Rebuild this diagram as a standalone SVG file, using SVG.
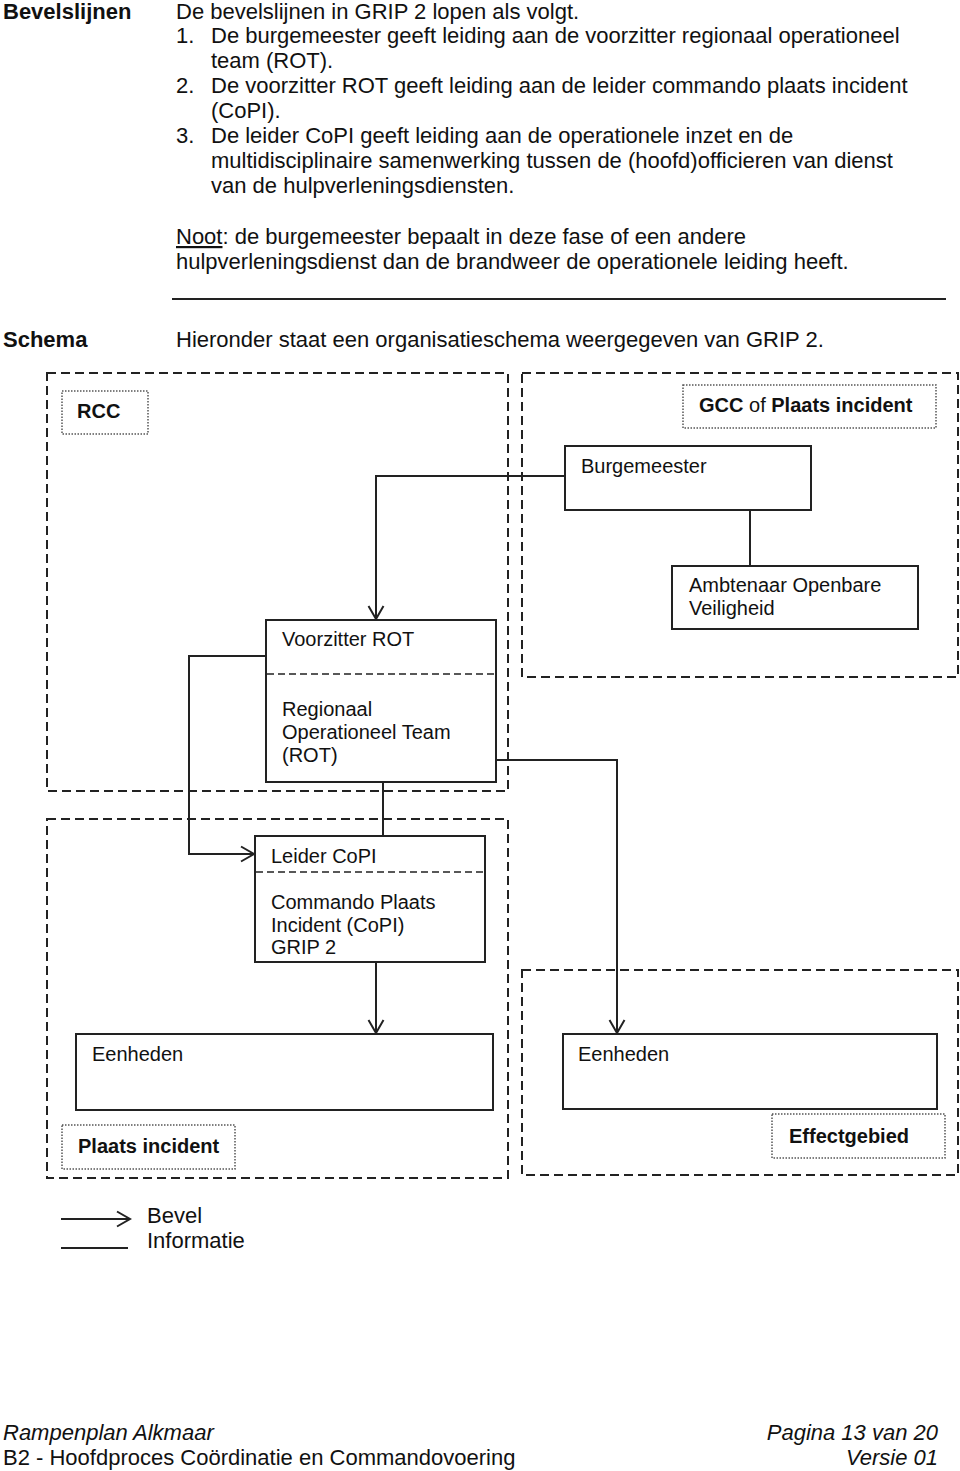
<svg xmlns="http://www.w3.org/2000/svg" width="960" height="1471" viewBox="0 0 960 1471">
<style>
text{font-family:"Liberation Sans",Arial,sans-serif;fill:#111}
.t{font-size:22px}
.d{font-size:20px}
.b{font-weight:bold}
.i{font-style:italic}
.e{text-anchor:end}
.region{fill:none;stroke:#222;stroke-width:2;stroke-dasharray:9 5}
.label{fill:#fff;stroke:#555;stroke-width:1.5;stroke-dasharray:1.5 1.5}
.box{fill:#fff;stroke:#222;stroke-width:2}
.div{stroke:#222;stroke-width:1.5;stroke-dasharray:7 4}
.con{fill:none;stroke:#222;stroke-width:2}
</style>
<defs>
<marker id="arr" markerUnits="userSpaceOnUse" markerWidth="18" markerHeight="20" viewBox="-15 -10 18 20" refX="0" refY="0" orient="auto">
<path d="M-13,-7.5 L0,0 L-13,7.5" fill="none" stroke="#222" stroke-width="2"/>
</marker>
</defs>
<rect width="960" height="1471" fill="#fff"/>

<g id="header-text">
<text class="t b" x="3" y="19">Bevelslijnen</text>
<text class="t" x="176" y="19">De bevelslijnen in GRIP 2 lopen als volgt.</text>
<text class="t" x="176" y="43">1.</text>
<text class="t" x="211" y="43">De burgemeester geeft leiding aan de voorzitter regionaal operationeel</text>
<text class="t" x="211" y="68">team (ROT).</text>
<text class="t" x="176" y="93">2.</text>
<text class="t" x="211" y="93">De voorzitter ROT geeft leiding aan de leider commando plaats incident</text>
<text class="t" x="211" y="118">(CoPI).</text>
<text class="t" x="176" y="143">3.</text>
<text class="t" x="211" y="143">De leider CoPI geeft leiding aan de operationele inzet en de</text>
<text class="t" x="211" y="168">multidisciplinaire samenwerking tussen de (hoofd)officieren van dienst</text>
<text class="t" x="211" y="193">van de hulpverleningsdiensten.</text>
<text class="t" x="176" y="244"><tspan text-decoration="underline">Noot</tspan>: de burgemeester bepaalt in deze fase of een andere</text>
<text class="t" x="176" y="269">hulpverleningsdienst dan de brandweer de operationele leiding heeft.</text>
<line x1="172" y1="299" x2="946" y2="299" stroke="#222" stroke-width="2"/>
<text class="t b" x="3" y="347">Schema</text>
<text class="t" x="176" y="347">Hieronder staat een organisatieschema weergegeven van GRIP 2.</text>
</g>

<g id="regions">
<rect class="region" x="47" y="373" width="461" height="418"/>
<rect class="region" x="522" y="373" width="436" height="304"/>
<rect class="region" x="47" y="819" width="461" height="359"/>
<rect class="region" x="522" y="970" width="436" height="205"/>
</g>

<g id="connectors">
<path class="con" d="M565,476 H376 V619" marker-end="url(#arr)"/>
<path class="con" d="M750,510 V566"/>
<path class="con" d="M266,656 H189 V854 H254" marker-end="url(#arr)"/>
<path class="con" d="M383,782 V836"/>
<path class="con" d="M376,962 V1033" marker-end="url(#arr)"/>
<path class="con" d="M496,760 H617 V1033" marker-end="url(#arr)"/>
</g>

<g id="rcc-label">
<rect class="label" x="62" y="391" width="86" height="43"/>
<text class="d b" x="77" y="418">RCC</text>
</g>

<g id="gcc-label">
<rect class="label" x="683" y="385" width="253" height="43"/>
<text class="d" x="699" y="412"><tspan class="b">GCC</tspan> of <tspan class="b">Plaats incident</tspan></text>
</g>

<g id="burgemeester">
<rect class="box" x="565" y="446" width="246" height="64"/>
<text class="d" x="581" y="473">Burgemeester</text>
</g>

<g id="ambtenaar">
<rect class="box" x="672" y="566" width="246" height="63"/>
<text class="d" x="689" y="592">Ambtenaar Openbare</text>
<text class="d" x="689" y="615">Veiligheid</text>
</g>

<g id="rot">
<rect class="box" x="266" y="620" width="230" height="162"/>
<line class="div" x1="267" y1="674" x2="495" y2="674"/>
<text class="d" x="282" y="646">Voorzitter ROT</text>
<text class="d" x="282" y="716">Regionaal</text>
<text class="d" x="282" y="739">Operationeel Team</text>
<text class="d" x="282" y="762">(ROT)</text>
</g>

<g id="copi">
<rect class="box" x="255" y="836" width="230" height="126"/>
<line class="div" x1="256" y1="872" x2="484" y2="872"/>
<text class="d" x="271" y="863">Leider CoPI</text>
<text class="d" x="271" y="909">Commando Plaats</text>
<text class="d" x="271" y="932">Incident (CoPI)</text>
<text class="d" x="271" y="954">GRIP 2</text>
</g>

<g id="eenheden-left">
<rect class="box" x="76" y="1034" width="417" height="76"/>
<text class="d" x="92" y="1061">Eenheden</text>
</g>

<g id="eenheden-right">
<rect class="box" x="563" y="1034" width="374" height="75"/>
<text class="d" x="578" y="1061">Eenheden</text>
</g>

<g id="plaats-incident-label">
<rect class="label" x="62" y="1125" width="173" height="44"/>
<text class="d b" x="78" y="1153">Plaats incident</text>
</g>

<g id="effectgebied-label">
<rect class="label" x="772" y="1114" width="173" height="44"/>
<text class="d b" x="789" y="1143">Effectgebied</text>
</g>

<g id="legend">
<path class="con" d="M61,1219 H130" marker-end="url(#arr)"/>
<path class="con" d="M61,1248 H128"/>
<text class="t" x="147" y="1223">Bevel</text>
<text class="t" x="147" y="1248">Informatie</text>
</g>

<g id="footer">
<text class="t i" x="3" y="1440">Rampenplan Alkmaar</text>
<text class="t" x="3" y="1465">B2 - Hoofdproces Coördinatie en Commandovoering</text>
<text class="t i e" x="938" y="1440">Pagina 13 van 20</text>
<text class="t i e" x="938" y="1465">Versie 01</text>
</g>
</svg>
